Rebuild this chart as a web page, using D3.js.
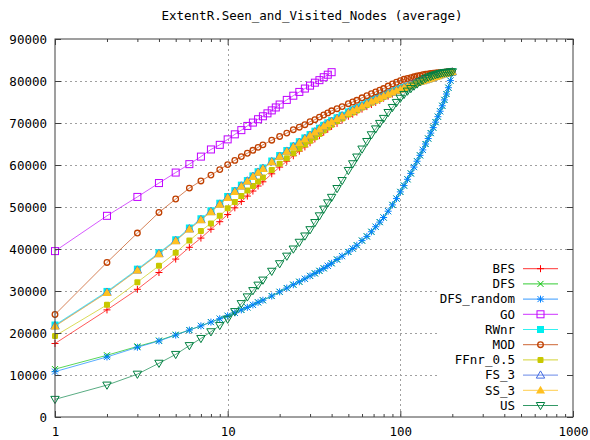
<!DOCTYPE html>
<html><head><meta charset="utf-8">
<script src="https://cdn.jsdelivr.net/npm/d3@7"></script>
<style>html,body{margin:0;padding:0;background:#fff;}svg{display:block;}</style>
</head><body>
<script>
// ---- data ----
const chartTitle = "ExtentR.Seen_and_Visited_Nodes (average)";
const xTickValues = [1, 10, 100, 1000];
const yTickValues = [0, 10000, 20000, 30000, 40000, 50000, 60000, 70000, 80000, 90000];
const xsLong = [1,2,3,4,5,6,7,8,9,10,11,12,13,14,15,16,
  18,20,22,24,26,28,30,32,34,36,38,40,
  43,46,50,53,56,60,
  64,68,72,76,80,
  85,90,95,
  100,105,110,115,120,125,130,135,140,145,150,155,160,165,170,175,180,185,190,195,200];
const xsGO = [1,2,3,4,5,6,7,8,9,10,11,12,13,14,15,16,17,18,19,20,22,24,26,28,30,32,34,36,38,40];

const seriesNames = ["BFS","DFS","DFS_random","GO","RWnr","MOD","FFnr_0.5","FS_3","SS_3","US"];

const BFS = [17500,25500,30400,34400,37600,40400,42600,44700,46500,48200,49800,51300,52600,53800,55000,56000,
  57900,59500,60900,62200,63300,64300,65300,66200,67000,67800,68500,69200,
  69900,70700,71600,72100,72600,73300,
  73900,74400,74900,75400,75900,
  76400,76900,77400,
  77800,78200,78500,78900,79200,79500,79700,80000,80200,80400,80600,80800,81000,81200,81400,81600,81700,81900,82000,82100,82200];
const DFS = [11400,14700,16800,18200,19600,20700,21700,22600,23400,24100,24800,25500,26100,26700,27300,27800,
  28800,29800,30700,31500,32200,32900,33600,34200,34800,35400,36000,36600,
  37500,38300,39300,40100,40900,42000,
  43000,44100,45300,46400,47500,
  49000,50500,52000,
  53600,55100,56600,58000,59500,60900,62300,63600,65000,66300,67600,68900,70200,71500,72800,74100,75500,76900,78400,80100,81900];
const DFS_random = [10800,14300,16600,18100,19500,20700,21700,22600,23400,24100,24800,25500,26100,26700,27300,27800,
  28800,29800,30700,31500,32200,32900,33600,34200,34800,35400,36000,36600,
  37500,38300,39300,40100,40900,42000,
  43000,44100,45300,46400,47500,
  49000,50500,52000,
  53600,55100,56600,58000,59500,60900,62300,63600,65000,66300,67600,68900,70200,71500,72800,74100,75500,76900,78400,80100,81900];
const GO = [39500,47900,52400,55700,58200,60200,62000,63700,64800,66100,67300,68300,69300,70100,70900,71600,72300,73000,73700,74400,
  75500,76500,77400,78200,78900,79600,80200,80900,81500,82100];
const RWnr = [21900,29900,35200,39100,42200,45000,47200,49100,50900,52500,53900,55200,56300,57400,58400,59300,
  60950,62250,63450,64550,65550,66450,67250,68050,68750,69450,70050,70550,
  71250,71850,72650,73150,73650,74250,
  74850,75350,75750,76250,76650,
  77100,77500,77900,
  78200,78500,78800,79100,79400,79700,79900,80100,80300,80500,80700,80900,81100,81300,81500,81700,81800,81900,82000,82100,82200];
const MOD = [24400,36800,43800,48700,51900,54500,56200,57600,58900,60100,61100,62000,62800,63500,64200,64800,
  65900,66800,67600,68400,69000,69600,70300,70800,71400,71900,72400,72900,
  73400,73900,74600,75000,75400,76000,
  76500,77000,77400,77800,78200,
  78800,79300,79700,
  80100,80400,80600,80800,81000,81200,81300,81500,81600,81700,81800,81850,81900,81950,82000,82050,82100,82150,82200,82200,82200];
const FFnr = [19300,26700,32100,36000,39100,42000,44300,46100,47900,49700,51200,52600,53900,55000,56100,57000,
  58800,60300,61600,62800,63900,64900,65800,66600,67400,68200,68900,69600,
  70400,71100,72000,72500,73000,73700,
  74300,74800,75300,75700,76200,
  76700,77200,77600,
  78000,78400,78700,79000,79300,79600,79800,80100,80300,80500,80700,80900,81100,81300,81400,81600,81700,81900,82000,82100,82200];
const FS_3 = [21700,29700,35000,38900,42000,44800,47000,48900,50700,52300,53700,55000,56200,57300,58300,59200,
  60800,62100,63300,64400,65400,66300,67100,67900,68600,69300,69900,70400,
  71100,71700,72500,73000,73500,74100,
  74700,75200,75600,76100,76500,
  77000,77400,77800,
  78100,78500,78800,79100,79400,79700,79900,80100,80300,80500,80700,80900,81100,81300,81500,81700,81800,81900,82000,82100,82200];
const SS_3 = [21600,29600,34900,38800,41900,44700,46900,48800,50600,52200,53600,54900,56100,57200,58200,59100,
  60700,62000,63200,64300,65300,66200,67000,67800,68500,69200,69800,70300,
  71000,71600,72400,72900,73400,74000,
  74600,75100,75500,76000,76400,
  76900,77300,77700,
  78000,78400,78700,79000,79300,79600,79800,80000,80200,80400,80600,80800,81000,81200,81400,81600,81700,81800,82000,82100,82200];
const US = [4200,7600,10200,12800,14900,17000,18700,20300,21800,23300,25100,27000,28600,30100,31400,32600,
  34700,36500,38300,40000,41600,43100,44600,46300,47900,49500,51000,52300,
  54400,56300,58700,60300,61900,63800,
  65600,67200,68600,69900,71100,
  72500,73700,74900,
  75900,76800,77600,78200,78800,79300,79800,80200,80600,80900,81100,81300,81500,81650,81800,81900,82000,82050,82100,82150,82200];

const seriesValues = [BFS, DFS, DFS_random, GO, RWnr, MOD, FFnr, FS_3, SS_3, US];
const seriesX = [xsLong, xsLong, xsLong, xsGO, xsLong, xsLong, xsLong, xsLong, xsLong, xsLong];
const seriesColors = ["#ff0000","#00c000","#0080ff","#c000ff","#00eeee","#c04000","#c8c800","#4169e1","#ffc020","#008040"];
const seriesShapes = ["plus","cross","star","openSquare","filledSquare","openCircle","filledCircle","openTriUp","filledTriUp","openTriDown"];

// ---- layout ----
const W = 590, H = 440;
const L = 55, R = 573, T = 39, B = 417;
const FONT = "'DejaVu Sans Mono', monospace";
const FS = "12.5px";

const svg = d3.select("body").append("svg").attr("width", W).attr("height", H);
svg.append("rect").attr("width", W).attr("height", H).attr("fill", "#fff");

const x = d3.scaleLog().domain([1, 1000]).range([L, R]);
const y = d3.scaleLinear().domain([0, 90000]).range([B, T]);

// title
svg.append("text").attr("x", 312).attr("y", 19.5).attr("text-anchor", "middle")
  .attr("font-family", FONT).attr("font-size", FS).attr("fill", "#000").text(chartTitle);

// grid
const grid = svg.append("g").attr("stroke", "#a0a0a0").attr("stroke-width", 1).attr("stroke-dasharray", "2,3");
yTickValues.filter(v => v > 0 && v < 90000).forEach(v => {
  grid.append("line").attr("x1", L).attr("x2", R).attr("y1", Math.round(y(v)) + 0.5).attr("y2", Math.round(y(v)) + 0.5);
});
xTickValues.filter(v => v > 1 && v < 1000).forEach(v => {
  grid.append("line").attr("y1", T).attr("y2", B).attr("x1", Math.round(x(v)) + 0.5).attr("x2", Math.round(x(v)) + 0.5);
});

// legend background (covers grid)
svg.append("rect").attr("x", 437).attr("y", 259).attr("width", 135).attr("height", 155).attr("fill", "#fff");

// marker drawing
function marker(g, shape, cx, cy, color) {
  const s = 3.5;
  switch (shape) {
    case "plus":
      g.append("path").attr("d", `M${cx-s},${cy}H${cx+s}M${cx},${cy-s}V${cy+s}`).attr("stroke", color).attr("fill", "none"); break;
    case "cross":
      g.append("path").attr("d", `M${cx-3},${cy-3}L${cx+3},${cy+3}M${cx-3},${cy+3}L${cx+3},${cy-3}`).attr("stroke", color).attr("fill", "none"); break;
    case "star":
      g.append("path").attr("d", `M${cx-s},${cy}H${cx+s}M${cx},${cy-s}V${cy+s}M${cx-3},${cy-3}L${cx+3},${cy+3}M${cx-3},${cy+3}L${cx+3},${cy-3}`).attr("stroke", color).attr("fill", "none"); break;
    case "openSquare":
      g.append("rect").attr("x", cx-3.5).attr("y", cy-3.5).attr("width", 7).attr("height", 7).attr("stroke", color).attr("fill", "none"); break;
    case "filledSquare":
      g.append("rect").attr("x", cx-3.5).attr("y", cy-3.5).attr("width", 7).attr("height", 7).attr("fill", color); break;
    case "openCircle":
      g.append("circle").attr("cx", cx).attr("cy", cy).attr("r", 2.8).attr("stroke", color).attr("stroke-width", 1.3).attr("fill", "none"); break;
    case "filledCircle":
      g.append("rect").attr("x", cx-3).attr("y", cy-3).attr("width", 6).attr("height", 6).attr("rx", 1.2).attr("fill", color); break;
    case "openTriUp":
      g.append("path").attr("d", `M${cx},${cy-4.2}L${cx+4.2},${cy+3}L${cx-4.2},${cy+3}Z`).attr("stroke", color).attr("fill", "none"); break;
    case "filledTriUp":
      g.append("path").attr("d", `M${cx},${cy-4.5}L${cx+4.5},${cy+3.2}L${cx-4.5},${cy+3.2}Z`).attr("fill", color); break;
    case "openTriDown":
      g.append("path").attr("d", `M${cx},${cy+4.2}L${cx+4.2},${cy-3}L${cx-4.2},${cy-3}Z`).attr("stroke", color).attr("fill", "none"); break;
  }
}

// series
const line = d3.line().x(d => x(d[0])).y(d => y(d[1]));
seriesNames.forEach((name, i) => {
  const pts = seriesX[i].map((xv, j) => [xv, seriesValues[i][j]]).filter(p => p[1] !== undefined);
  const g = svg.append("g");
  g.append("path").datum(pts).attr("d", line).attr("fill", "none")
    .attr("stroke", seriesColors[i]).attr("stroke-width", 1).attr("stroke-opacity", 0.65);
  pts.forEach(p => marker(g, seriesShapes[i], x(p[0]), y(p[1]), seriesColors[i]));
});

// axes
const minorX = [];
[1, 10, 100].forEach(d => { for (let k = 2; k <= 9; k++) minorX.push(d * k); });
const axisColor = "#404040";
function styleAxis(g) {
  g.select(".domain").remove();
  g.selectAll(".tick line").attr("stroke", axisColor);
  g.selectAll("text").attr("font-family", FONT).attr("font-size", FS).attr("fill", "#000");
}
svg.append("g").attr("transform", `translate(0,${B})`)
  .call(d3.axisBottom(x).tickValues(xTickValues).tickSize(-6).tickPadding(10).tickFormat(d3.format("d"))).call(styleAxis);
svg.append("g").attr("transform", `translate(0,${B})`)
  .call(d3.axisBottom(x).tickValues(minorX).tickSize(-3).tickFormat("")).call(styleAxis);
svg.append("g").attr("transform", `translate(0,${T})`)
  .call(d3.axisTop(x).tickValues(xTickValues).tickSize(-6).tickFormat("")).call(styleAxis);
svg.append("g").attr("transform", `translate(0,${T})`)
  .call(d3.axisTop(x).tickValues(minorX).tickSize(-3).tickFormat("")).call(styleAxis);
svg.append("g").attr("transform", `translate(${L},0)`)
  .call(d3.axisLeft(y).tickValues(yTickValues).tickSize(-6).tickPadding(8).tickFormat(d3.format("d"))).call(styleAxis);
svg.append("g").attr("transform", `translate(${R},0)`)
  .call(d3.axisRight(y).tickValues(yTickValues).tickSize(-6).tickFormat("")).call(styleAxis);

// border
svg.append("rect").attr("x", L).attr("y", T).attr("width", R - L).attr("height", B - T)
  .attr("fill", "none").attr("stroke", axisColor).attr("stroke-width", 1);

// legend
const leg = svg.append("g");
seriesNames.forEach((name, i) => {
  const ly = 268.7 + i * 15.2;
  leg.append("text").attr("x", 515).attr("y", ly).attr("dy", "0.35em").attr("text-anchor", "end")
    .attr("font-family", FONT).attr("font-size", FS).attr("fill", "#000").text(name);
  leg.append("line").attr("x1", 523).attr("x2", 558).attr("y1", ly).attr("y2", ly)
    .attr("stroke", seriesColors[i]).attr("stroke-width", 1).attr("stroke-opacity", 0.8);
  marker(leg, seriesShapes[i], 540.5, ly, seriesColors[i]);
});
</script>
</body></html>
